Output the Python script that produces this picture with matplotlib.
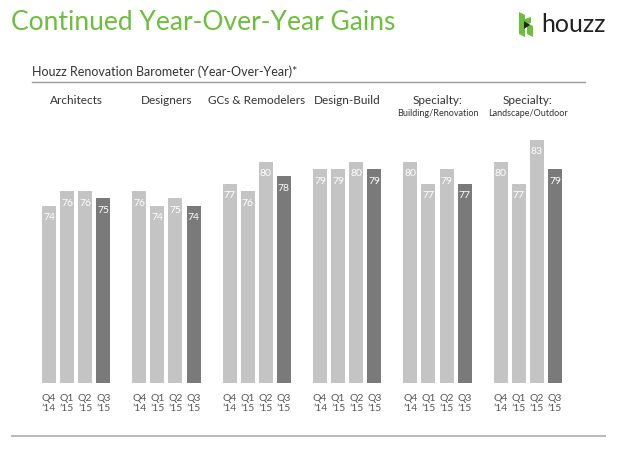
import numpy as np
import matplotlib
matplotlib.use('Agg')
import matplotlib.pyplot as plt
from matplotlib.patches import Polygon

plt.rcParams['font.family'] = ['Lato', 'DejaVu Sans']

W, H = 618, 449

groups = ['Architects', 'Designers', 'GCs & Remodelers', 'Design-Build',
          'Specialty:', 'Specialty:']
group_sub = ['', '', '', '', 'Building/Renovation', 'Landscape/Outdoor']
quarters = ['Q4\n’14', 'Q1\n’15', 'Q2\n’15', 'Q3\n’15']
values = [
    [74, 76, 76, 75],
    [76, 74, 75, 74],
    [77, 76, 80, 78],
    [79, 79, 80, 79],
    [80, 77, 79, 77],
    [80, 77, 83, 79],
]

LIGHT = '#c4c4c4'
DARK = '#7a7a7a'
GREEN = '#6cbf3c'


def fx(px):
    return px / W


def fy(py):
    return 1 - py / H


fig = plt.figure(figsize=(W / 100, H / 100), dpi=100)

# bars area: bottom of bars at y=383px, 18px per bar slot, first bar centre at 49px
ax = fig.add_axes([0, fy(383), 1, (383 - 120) / H])
ax.set_xlim(-49 / 18.07, (W - 49) / 18.07)
ax.set_ylim(49.7, 49.7 + 263 / 7.3)

xs, hs, cs, lbls = [], [], [], []
for g, vals in enumerate(values):
    for i, v in enumerate(vals):
        xs.append(g * 5 + i)
        hs.append(v)
        cs.append(DARK if i == 3 else LIGHT)
        lbls.append(quarters[i])
ax.bar(xs, np.array(hs) - 49.7, bottom=49.7, width=0.775, color=cs, linewidth=0)
for x, v in zip(xs, hs):
    ax.annotate(str(v), (x, v), xytext=(0, -12), textcoords='offset pixels',
                ha='center', va='center', color='white', fontsize=7.5)

ax.set_xticks(xs)
ax.set_xticklabels(lbls, fontsize=7.5, color='#555555', linespacing=1.1)
ax.tick_params(axis='x', length=0, pad=8)
ax.tick_params(axis='y', left=False, labelleft=False)
for s in ax.spines.values():
    s.set_visible(False)
ax.set_facecolor('none')

# headers above each group
for g in range(len(groups)):
    cx = fx(49 + 18.07 * (g * 5 + 1.5))
    fig.text(cx, fy(101), groups[g], ha='center', va='center', fontsize=8.5,
             color='#333333')
    if group_sub[g]:
        fig.text(cx, fy(114), group_sub[g], ha='center', va='center',
                 fontsize=6.5, color='#333333')

# title and subtitle
fig.text(fx(11), fy(23), 'Continued Year-Over-Year Gains', ha='left', va='center',
         fontsize=19, color=GREEN)
fig.text(fx(32), fy(72), 'Houzz Renovation Barometer (Year-Over-Year)*',
         ha='left', va='center', fontsize=9, color='#333333')
fig.add_artist(plt.Line2D([fx(32), fx(585)], [fy(82), fy(82)], color='#999999', lw=1))
fig.add_artist(plt.Line2D([fx(12), fx(605)], [fy(436), fy(436)], color='#bbbbbb', lw=1.5))

# houzz logo
logo = [
    [(519, 12), (525, 15), (525, 37), (519, 34)],
    [(527, 23), (533, 26), (533, 37), (527, 34)],
    [(525, 19), (531, 17), (531, 23), (525, 25)],
]
for pts in logo:
    fig.add_artist(Polygon([(fx(a), fy(b)) for a, b in pts], closed=True,
                           facecolor=GREEN, edgecolor='none', transform=fig.transFigure))
fig.add_artist(Polygon([(fx(524), fy(21)), (fx(524), fy(29)), (fx(530), fy(25))],
                       closed=True, facecolor='#222222', edgecolor='none',
                       transform=fig.transFigure))
fig.text(fx(541), fy(25), 'houzz', ha='left', va='center', fontsize=18,
         color='#222222')

fig.savefig('out.png', dpi=100, facecolor='white')
